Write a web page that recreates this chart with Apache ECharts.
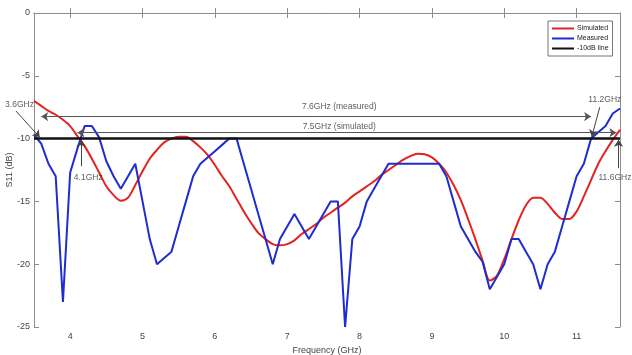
<!DOCTYPE html>
<html>
<head>
<meta charset="utf-8">
<script src="https://cdn.jsdelivr.net/npm/echarts@6/dist/echarts.min.js"></script>
<style>
  html, body { margin: 0; padding: 0; background: #fff; }
  #chart { width: 632px; height: 355px; }
</style>
</head>
<body>
<div id="chart"></div>
<script>
// frequency samples (GHz)
const freq = [
  3.5, 3.6, 3.7, 3.8, 3.9, 4.0, 4.1, 4.2, 4.3, 4.4, 4.5, 4.6, 4.7, 4.8, 4.9,
  5.0, 5.1, 5.2, 5.3, 5.4, 5.5, 5.6, 5.7, 5.8, 5.9, 6.0, 6.1, 6.2, 6.3, 6.4,
  6.5, 6.6, 6.7, 6.8, 6.9, 7.0, 7.1, 7.2, 7.3, 7.4, 7.5, 7.6, 7.7, 7.8, 7.9,
  8.0, 8.1, 8.2, 8.3, 8.4, 8.5, 8.6, 8.7, 8.8, 8.9, 9.0, 9.1, 9.2, 9.3, 9.4,
  9.5, 9.6, 9.7, 9.8, 9.9, 10.0, 10.1, 10.2, 10.3, 10.4, 10.5, 10.6, 10.7, 10.8, 10.9,
  11.0, 11.1, 11.2, 11.3, 11.4, 11.5, 11.6
]

// S11 simulated (dB)
const simulated = [
  -7.0, -7.4, -7.8, -8.1, -8.5, -9.0, -9.8, -10.6, -11.6, -12.7, -13.8, -14.5, -14.95, -14.7, -13.7,
  -12.6, -11.6, -10.9, -10.3, -10.0, -9.85, -9.85, -10.2, -10.7, -11.3, -12.1, -13.0, -13.8, -14.8, -15.8,
  -16.7, -17.5, -18.0, -18.4, -18.5, -18.4, -18.1, -17.6, -17.2, -16.8, -16.3, -15.9, -15.5, -15.1, -14.6,
  -14.2, -13.8, -13.4, -12.9, -12.5, -12.1, -11.7, -11.4, -11.2, -11.25, -11.5, -12.0, -12.7, -13.7, -14.9,
  -16.4, -18.0, -19.7, -21.3, -20.9, -19.6, -18.0, -16.5, -15.3, -14.7, -14.7, -15.2, -15.9, -16.4, -16.4,
  -15.8, -14.6, -13.3, -12.0, -11.0, -10.1, -9.3
]

// S11 measured (dB)
const measured = [
  -9.7, -10.4, -12.0, -13.0, -23.0, -12.7, -10.8, -9.0, -9.0, -9.9, -11.8, -13.0, -14.0, -13.0, -12.0,
  -15.0, -18.0, -20.0, -19.5, -19.0, -17.0, -15.0, -13.0, -12.0, -11.5, -11.0, -10.5, -10.0, -10.0, -12.0,
  -14.0, -16.0, -18.0, -20.0, -18.0, -17.0, -16.0, -17.0, -18.0, -17.0, -16.0, -15.0, -15.0, -25.0, -18.0,
  -17.0, -15.0, -14.0, -13.0, -12.0, -12.0, -12.0, -12.0, -12.0, -12.0, -12.0, -12.0, -13.0, -15.0, -17.0,
  -18.0, -19.0, -19.8, -22.0, -21.0, -20.0, -18.0, -18.0, -19.0, -20.0, -22.0, -20.0, -19.0, -17.0, -15.0,
  -13.0, -12.0, -10.0, -9.5, -9.0, -8.0, -7.6
]

const xTicks = [4, 5, 6, 7, 8, 9, 10, 11]
const refLevel = -10

// bandwidth arrows: [start, end] in (GHz, dB)
const spanArrows = [
  [[3.6, -8.25], [11.2, -8.25]],
  [[4.1, -9.53], [11.55, -9.53]]
]
// leader arrows pointing at the -10 dB crossings
const leaderArrows = [
  [[3.25, -7.8], [3.58, -9.9]],
  [[4.15, -12.2], [4.15, -10.1]],
  [[11.32, -7.5], [11.21, -9.85]],
  [[11.58, -12.35], [11.58, -10.1]]
]
// annotation texts: [GHz, dB, text]
const notes = [
  [3.30, -7.32, '3.6GHz'],
  [4.25, -13.14, '4.1GHz'],
  [11.39, -6.92, '11.2GHz'],
  [11.53, -13.14, '11.6GHz'],
  [7.72, -7.48, '7.6GHz (measured)'],
  [7.72, -9.07, '7.5GHz (simulated)']
]

const font = 'Liberation Sans, Arial, sans-serif'
const frameColor = '#8c8c8c'

const pairs = (ys) => freq.map((f, i) => [f, ys[i]])

const xBase = {
  type: 'value',
  min: 3.5,
  max: 11.6,
  splitLine: { show: false },
  axisLine: { lineStyle: { color: frameColor, width: 1 } },
  axisTick: { inside: true, length: 5, customValues: xTicks, lineStyle: { color: frameColor } }
}
const yBase = {
  type: 'value',
  min: -25,
  max: 0,
  interval: 5,
  splitLine: { show: false },
  axisLine: { show: true, lineStyle: { color: frameColor, width: 1 } },
  axisTick: { show: true, inside: true, length: 5, lineStyle: { color: frameColor } }
}

const option = {
  animation: false,
  backgroundColor: '#fff',
  grid: { left: 34, right: 12, top: 13, bottom: 28, containLabel: false, outerBoundsMode: 'none' },
  legend: {
    data: ['Simulated', 'Measured', '-10dB line'],
    orient: 'vertical',
    left: 548,
    top: 21,
    padding: [4, 4, 4, 4],
    icon: 'rect',
    itemGap: 3,
    itemWidth: 22,
    itemHeight: 2,
    backgroundColor: '#fff',
    borderColor: '#777',
    borderWidth: 1,
    borderRadius: 0,
    textStyle: { fontSize: 7, color: '#222', fontFamily: font, padding: [0, 0, 0, -2] }
  },
  xAxis: [
    Object.assign({}, xBase, {
      position: 'bottom',
      name: 'Frequency (GHz)',
      nameLocation: 'middle',
      nameGap: 19,
      nameMoveOverlap: false,
      nameTextStyle: { fontSize: 9, color: '#444', fontFamily: font },
      axisLabel: { customValues: xTicks, fontSize: 9, color: '#444', margin: 5, fontFamily: font }
    }),
    Object.assign({}, xBase, { position: 'top', axisLabel: { show: false } })
  ],
  yAxis: [
    Object.assign({}, yBase, {
      position: 'left',
      name: 'S11 (dB)',
      nameLocation: 'middle',
      nameGap: 20,
      nameMoveOverlap: false,
      nameTextStyle: { fontSize: 9, color: '#444', fontFamily: font },
      axisLabel: { fontSize: 9, color: '#444', margin: 4, fontFamily: font }
    }),
    Object.assign({}, yBase, { position: 'right', axisLabel: { show: false } })
  ],
  series: [
    {
      name: 'Simulated',
      type: 'line',
      smooth: 0.3,
      symbol: 'none',
      data: pairs(simulated),
      lineStyle: { color: '#e2231f', width: 2 },
      itemStyle: { color: '#e2231f' },
      z: 3
    },
    {
      name: 'Measured',
      type: 'line',
      symbol: 'none',
      data: pairs(measured),
      lineStyle: { color: '#1f2ccf', width: 2 },
      itemStyle: { color: '#1f2ccf' },
      z: 4
    },
    {
      name: '-10dB line',
      type: 'line',
      symbol: 'none',
      data: [[3.5, refLevel], [11.6, refLevel]],
      lineStyle: { color: '#111', width: 2.5 },
      itemStyle: { color: '#111' },
      z: 5
    },
    {
      type: 'lines',
      coordinateSystem: 'cartesian2d',
      clip: false,
      silent: true,
      symbol: ['arrow', 'arrow'],
      symbolSize: 7,
      lineStyle: { color: '#555', width: 1, opacity: 1, curveness: 0 },
      data: spanArrows.map((c) => ({ coords: c })),
      z: 6
    },
    {
      type: 'lines',
      coordinateSystem: 'cartesian2d',
      clip: false,
      silent: true,
      symbol: ['none', 'arrow'],
      symbolSize: 7,
      lineStyle: { color: '#444', width: 1, opacity: 1, curveness: 0 },
      data: leaderArrows.map((c) => ({ coords: c })),
      z: 6
    },
    {
      type: 'scatter',
      clip: false,
      silent: true,
      symbolSize: 1,
      itemStyle: { color: 'rgba(0,0,0,0)' },
      label: {
        show: true,
        position: 'inside',
        formatter: (p) => p.data.value[2],
        fontSize: 8.5,
        color: '#333',
        fontFamily: font
      },
      data: notes.map((n) => ({ value: n })),
      z: 7
    }
  ]
}

const chart = echarts.init(document.getElementById('chart'))
chart.setOption(option)
</script>
</body>
</html>
